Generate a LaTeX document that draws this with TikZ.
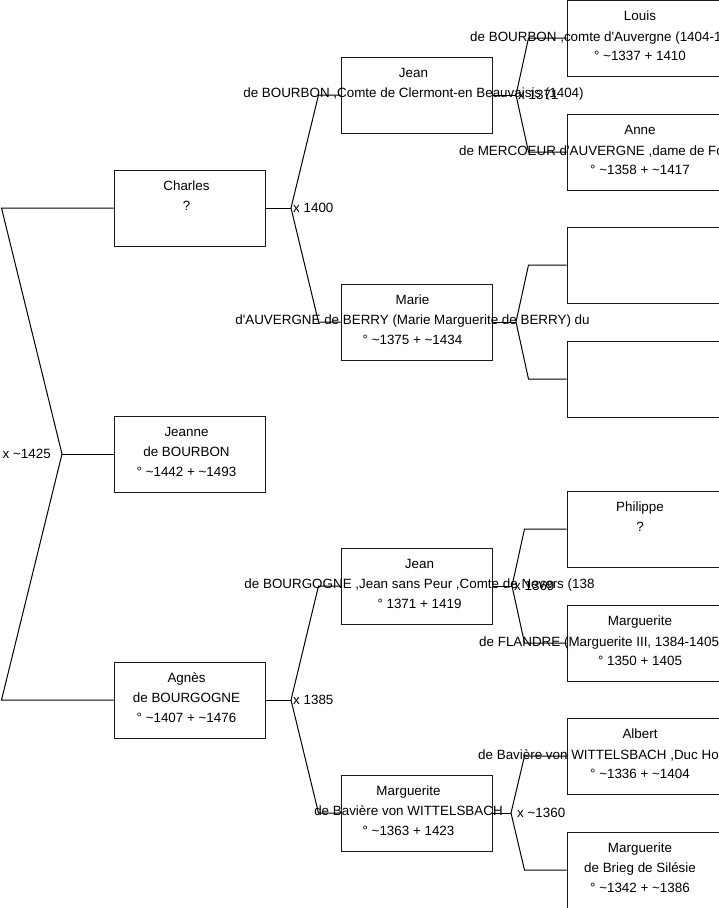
\documentclass[tikz,border=0pt]{standalone}
\usepackage{fontspec}
\setmainfont{Liberation Sans}[Ligatures=TeXOff]
\usetikzlibrary{positioning}
\newcommand{\circa}{\textasciitilde}

\begin{document}
\begin{tikzpicture}[x=1pt,y=-1pt,font=\fontsize{13.4}{20}\selectfont,
    personbox/.style={draw=black!90,line width=1pt,minimum width=151pt,minimum height=76pt,inner sep=0pt},
    persontext/.style={align=center,inner sep=0pt,anchor=base},
    overflow/.style={inner sep=0pt,anchor=base west},
    linkline/.style={draw=black,line width=1pt},
    marriage/.style={inner sep=0pt,anchor=west}]
  \useasboundingbox (0,0) rectangle (719,908);
  % generation 1
  \node[personbox] (charles) at (189.5,208) {};
  \node[personbox] (jeanne) at (189.5,454) {};
  \node[personbox] (agnes) at (189.5,700) {};
  % generation 2
  \node[personbox] (jeanbourbon) at (416.5,95) {};
  \node[personbox] (marie) at (416.5,322) {};
  \node[personbox] (jeanbourgogne) at (416.5,586) {};
  \node[personbox] (margbaviere) at (416.5,813) {};
  % generation 3
  \node[personbox,minimum width=152pt] (louis) at (643,38) {};
  \node[personbox,minimum width=152pt] (anne) at (643,152) {};
  \node[personbox,minimum width=152pt] (unknownfather) at (643,265) {};
  \node[personbox,minimum width=152pt] (unknownmother) at (643,379) {};
  \node[personbox,minimum width=152pt] (philippe) at (643,529) {};
  \node[personbox,minimum width=152pt] (margflandre) at (643,643) {};
  \node[personbox,minimum width=152pt] (albert) at (643,756) {};
  \node[personbox,minimum width=152pt] (margbrieg) at (643,870) {};

  % texts (base = last line)
  \node[persontext] (charlestext) at ([xshift=-3pt,yshift=-41pt]charles.north) {Charles\\?};
  \node[persontext] (jeannetext) at ([xshift=-3pt,yshift=-61pt]jeanne.north) {Jeanne\\de BOURBON\\° \circa1442 + \circa1493};
  \node[persontext] (agnestext) at ([xshift=-3pt,yshift=-61pt]agnes.north) {Agnès\\de BOURGOGNE\\° \circa1407 + \circa1476};
  \node[persontext] (jeanbourbontext) at ([xshift=-3pt,yshift=-41pt]jeanbourbon.north) {Jean\\de BOURBON ,Comte de Clermont-en Beauvaisis (1404)};
  \node[persontext] (marietext) at ([xshift=-4pt,yshift=-61pt]marie.north) {Marie\\d'AUVERGNE de BERRY (Marie Marguerite de BERRY) du\\° \circa1375 + \circa1434};
  \node[persontext] (jeanbourgognetext) at ([xshift=3pt,yshift=-61pt]jeanbourgogne.north) {Jean\\de BOURGOGNE ,Jean sans Peur ,Comte de Nevers (138\\° 1371 + 1419};
  \node[persontext] (margbavieretext) at ([xshift=-8pt,yshift=-61pt]margbaviere.north) {Marguerite\\de Bavière von WITTELSBACH\\° \circa1363 + 1423};
  \node[persontext] (louistext) at ([xshift=-3pt,yshift=-61pt]louis.north) {Louis\\ \\° \circa1337 + 1410};
  \node[overflow] (louisline) at (470,41) {de BOURBON ,comte d'Auvergne (1404-1};
  \node[persontext] (annetext) at ([xshift=-3pt,yshift=-61pt]anne.north) {Anne\\ \\° \circa1358 + \circa1417};
  \node[overflow] (anneline) at (459,155) {de MERCOEUR d'AUVERGNE ,dame de Fo};
  \node[persontext] (philippetext) at ([xshift=-3pt,yshift=-41pt]philippe.north) {Philippe\\?};
  \node[persontext] (margflandretext) at ([xshift=-3pt,yshift=-61pt]margflandre.north) {Marguerite\\ \\° 1350 + 1405};
  \node[overflow] (margflandreline) at (479,646) {de FLANDRE (Marguerite III, 1384-1405};
  \node[persontext] (alberttext) at ([xshift=-3pt,yshift=-61pt]albert.north) {Albert\\ \\° \circa1336 + \circa1404};
  \node[overflow] (albertline) at (478,759) {de Bavière von WITTELSBACH ,Duc Hol};
  \node[persontext] (margbriegtext) at ([xshift=-3pt,yshift=-61pt]margbrieg.north) {Marguerite\\de Brieg de Silésie\\° \circa1342 + \circa1386};

  % connectors
  \coordinate (m1425) at (62,454);
  \draw[linkline] (charles.west) -- ++(-112,0) -- (m1425) -- ([xshift=-112pt]agnes.west) -- (agnes.west);
  \draw[linkline] (m1425) -- (jeanne.west);
  \node[marriage,anchor=east] at ([xshift=-11pt]m1425) {x \circa1425};

  \coordinate (m1400) at (291,208);
  \draw[linkline] (charles.east) -- (m1400);
  \draw[linkline] (jeanbourbon.west) -- ++(-22,0) -- (m1400) -- ([xshift=-22pt]marie.west) -- (marie.west);
  \node[marriage] at ([xshift=2pt]m1400) {x 1400};

  \coordinate (m1385) at (291,700);
  \draw[linkline] (agnes.east) -- (m1385);
  \draw[linkline] (jeanbourgogne.west) -- ++(-22,0) -- (m1385) -- ([xshift=-22pt]margbaviere.west) -- (margbaviere.west);
  \node[marriage] at ([xshift=2pt]m1385) {x 1385};

  \coordinate (m1371) at (516,95);
  \draw[linkline] (jeanbourbon.east) -- (m1371);
  \draw[linkline] (louis.west) -- ++(-38,0) -- (m1371) -- ([xshift=-38pt]anne.west) -- (anne.west);
  \node[marriage] at ([xshift=2pt]m1371) {x 1371};

  \coordinate (mmarie) at (516,322);
  \draw[linkline] (marie.east) -- (mmarie);
  \draw[linkline] (unknownfather.west) -- ++(-38,0) -- (mmarie) -- ([xshift=-38pt]unknownmother.west) -- (unknownmother.west);

  \coordinate (m1369) at (512,586);
  \draw[linkline] (jeanbourgogne.east) -- (m1369);
  \draw[linkline] (philippe.west) -- ++(-42,0) -- (m1369) -- ([xshift=-42pt]margflandre.west) -- (margflandre.west);
  \node[marriage] at ([xshift=2pt]m1369) {x 1369};

  \coordinate (m1360) at (511,813);
  \draw[linkline] (margbaviere.east) -- (m1360);
  \draw[linkline] (albert.west) -- ++(-42,0) -- (m1360) -- ([xshift=-42pt]margbrieg.west) -- (margbrieg.west);
  \node[marriage] at ([xshift=6pt]m1360) {x \circa1360};
\end{tikzpicture}
\end{document}
